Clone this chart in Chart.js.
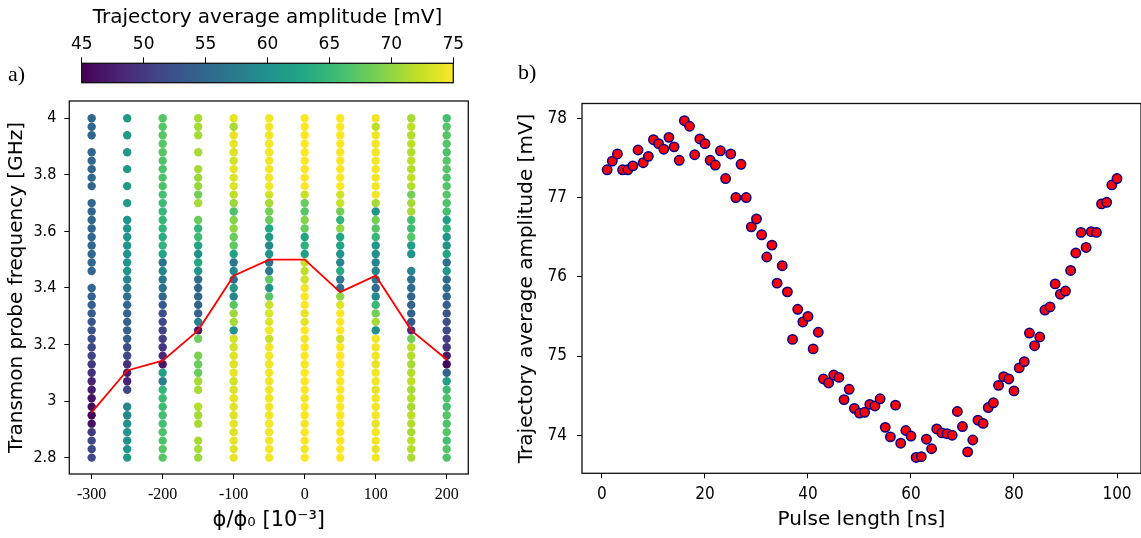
<!DOCTYPE html>
<html>
<head>
<meta charset="utf-8">
<script src="https://cdn.jsdelivr.net/npm/chart.js@4.4.1/dist/chart.umd.min.js"></script>
<style>
  body { margin: 0; background: #fff; width: 1141px; height: 538px; position: relative; overflow: hidden; }
  .box { position: absolute; }
  .panel { position: absolute; font-family: 'Liberation Serif', serif; font-size: 22px; line-height: 1; color: #000; }
</style>
</head>
<body>
<div class="box" style="left:0;top:0;width:480px;height:100px"><canvas id="cbar" width="480" height="100"></canvas></div>
<div class="box" style="left:0;top:96px;width:480px;height:442px"><canvas id="chartA" width="480" height="442"></canvas></div>
<div class="box" style="left:480px;top:0;width:661px;height:538px"><canvas id="chartB" width="661" height="538"></canvas></div>
<div class="panel" style="left:8px;top:63px">a)</div>
<div class="panel" style="left:518px;top:61px">b)</div>
<script>
// ---- panel a: flux sweep ----
const fluxColumns = [-300, -250, -200, -150, -100, -50, 0, 50, 100, 150, 200];
const probeFreq = [2.80, 2.83, 2.86, 2.89, 2.92, 2.95, 2.98, 3.01, 3.04, 3.07, 3.10, 3.13, 3.16, 3.19,
  3.22, 3.25, 3.28, 3.31, 3.34, 3.37, 3.40, 3.43, 3.46, 3.49, 3.52, 3.55, 3.58, 3.61, 3.64, 3.67,
  3.70, 3.73, 3.76, 3.79, 3.82, 3.85, 3.88, 3.91, 3.94, 3.97, 4.00];

// trajectory amplitude [mV] per column, bottom (2.8 GHz) to top (4 GHz); null = no point
const ampM300 = [51.5,51.5,51.5,50,46.5,45.2,46,46.5,47.5,48,49,50,51,51.5,52,52.5,53,53.5,54,54.5,55,null,55,55,55,55,55,55,55,55,55,null,55,55,55,55,55,null,55,55,55];
const ampM250 = [61,60.5,60,60.5,60,59,59,null,51.5,48,47.5,49,51.5,52,54,54.5,54.5,55,55,56,57,58.5,60.5,60.5,60.5,60.5,60.5,60.5,60.5,null,61,null,61,null,61,null,61,null,61,null,61];
const ampM200 = [67,67,66.5,66.5,66,66,65.5,65.5,64.5,58,62,47,48.5,49.5,50.5,51,51.5,52,53.5,55,56,57,59,56.5,62.5,64.5,63.5,64.5,65,65,65.5,66,66.5,66.5,66.5,66.5,67,67,67,67,67];
const ampM150 = [70.5,71,71,null,71,71,71.5,null,71,71,68,68,69,null,68.5,47,58,54,54.5,55,55,55.5,60.5,63,60,62.5,65.5,64.5,68,null,71,68.5,70.5,70.5,71,null,71,null,71,71,71];
const ampM100 = [74,73.5,74,73.5,74,73.5,73.5,74,73.5,73,74,73.5,73.5,73,73,60,71,70.5,67,58.5,61,55.5,59,57,62,67.5,68,70,69.5,66.5,70.5,72,73.5,73.5,74,73,73.5,74,74,71,74];
const ampM50 = [74.5,74.5,74.5,74.5,74.5,74.5,74.5,74.5,74.5,74.5,74.5,74.5,74.5,74.5,72.5,74.5,73.5,73.5,72.5,67,60,67.5,57,56,60,59,61,63,68,68.5,71,73,74.5,74.5,74.5,74.5,74.5,74.5,74.5,74.5,74.5];
const amp0 = [75,74.5,75,75,74.5,75,75,74.5,75,75,75,74.5,75,75,74.5,75,74,74,75,75,74.5,73,72,72.5,62,64,62.5,68,69.5,67,68,72.5,75,75,75,75,75,75,75,75,75];
const amp50 = [75,75,75,75,75,75,75,75,75,75,75,75,75,75,73,75,75,75,73.5,70,56,57,63.5,58.5,60.5,62.5,62.5,70,64.5,68.5,72.5,73,75,75,75,75,75,75,75,75,75];
const amp100 = [74.5,74,74.5,74.5,74,74.5,74.5,74.5,74,74.5,74.5,74,74.5,74.5,74.5,60,71,68.5,65,59,55.5,57,58.5,58.5,60,60.5,65,67,68.5,60.5,71,74.5,74.5,74.5,74.5,74.5,74.5,74.5,74.5,72,74.5];
const amp150 = [71,71.5,72,71,71.5,72,71,71.5,71,72,71.5,71,71.5,72,68.5,49,53,54,54.5,55,55.5,56,58.5,null,60.5,61.5,67,65.5,66,71,71,68.5,71.5,72,71.5,72,71.5,72,71.5,72,71];
const amp200 = [66.5,67,66,67,66.5,67,66,66.5,65.5,62,54.5,45.5,47,49.5,50.5,51.5,52,53,54.5,55,55.5,55.5,61,56,62.5,60,60.5,64.5,62,66,66.5,67,67,66.5,67,67,66.5,67,67,67,66];
const columnAmps = [ampM300, ampM250, ampM200, ampM150, ampM100, ampM50, amp0, amp50, amp100, amp150, amp200];

const resonanceFlux = [-300, -250, -200, -150, -100, -50, 0, 50, 100, 150, 200];
const resonanceFreq = [2.96, 3.108, 3.143, 3.25, 3.443, 3.50, 3.50, 3.385, 3.443, 3.25, 3.147];

const colorMin = 45, colorMax = 75;
const colorTicks = [45, 50, 55, 60, 65, 70, 75];

// ---- panel b: pulse length sweep ----
const pulseLength = [1,2,3,4,5,6,7,8,9,10,11,12,13,14,15,16,17,18,19,20,21,22,23,24,25,26,27,28,29,30,
  31,32,33,34,35,36,37,38,39,40,41,42,43,44,45,46,47,48,49,50,51,52,53,54,55,56,57,58,59,60,
  61,62,63,64,65,66,67,68,69,70,71,72,73,74,75,76,77,78,79,80,81,82,83,84,85,86,87,88,89,90,
  91,92,93,94,95,96,97,98,99,100];
const trajAmp = [77.35,77.46,77.55,77.35,77.35,77.40,77.60,77.44,77.52,77.73,
  77.68,77.61,77.76,77.64,77.47,77.97,77.90,77.54,77.74,77.68,
  77.47,77.41,77.59,77.24,77.55,77.00,77.42,77.00,76.63,76.73,
  76.53,76.25,76.40,75.92,76.14,75.81,75.21,75.59,75.43,75.50,
  75.09,75.30,74.71,74.66,74.76,74.73,74.45,74.58,74.34,74.28,
  74.29,74.39,74.37,74.46,74.10,73.98,74.38,73.90,74.06,73.99,
  73.72,73.73,73.95,73.83,74.08,74.03,74.02,74.00,74.30,74.11,
  73.79,73.94,74.19,74.15,74.35,74.41,74.63,74.74,74.71,74.56,
  74.85,74.93,75.29,75.13,75.24,75.58,75.62,75.91,75.78,75.82,
  76.08,76.30,76.56,76.37,76.57,76.56,76.92,76.94,77.16,77.24];

// viridis colormap
const viridisStops = ['#440154', '#482475', '#414487', '#355f8d', '#2a788e', '#21918c',
  '#22a884', '#44bf70', '#7ad151', '#bddf26', '#fde725'];
function hexRgb(h) {
  return [parseInt(h.slice(1, 3), 16), parseInt(h.slice(3, 5), 16), parseInt(h.slice(5, 7), 16)];
}
function viridis(v) {
  let t = Math.min(1, Math.max(0, (v - colorMin) / (colorMax - colorMin))) * 10;
  let i = Math.min(9, Math.floor(t));
  let f = t - i;
  let a = hexRgb(viridisStops[i]), b = hexRgb(viridisStops[i + 1]);
  return 'rgb(' + a.map((c, k) => Math.round(c + (b[k] - c) * f)).join(',') + ')';
}

const frame = {
  id: 'frame',
  afterDraw(chart) {
    const {ctx, chartArea: a} = chart;
    ctx.save();
    ctx.strokeStyle = '#111';
    ctx.lineWidth = 1.3;
    ctx.strokeRect(a.left, a.top, a.right - a.left, a.bottom - a.top);
    ctx.restore();
  }
};

// keep the plot box where the figure has it: no extra room for overhanging tick labels
function fixX(h) { return s => { s.height = h; s.paddingLeft = 0; s.paddingRight = 0; }; }
function fixY(w) { return s => { s.width = w; s.paddingTop = 0; s.paddingBottom = 0; }; }

const sans = "'DejaVu Sans', sans-serif";
const tickSans = "'DejaVu Sans Condensed', 'DejaVu Sans', sans-serif";
const noPlugins = {legend: {display: false}, tooltip: {enabled: false}};

// ---- colorbar ----
const gradientBar = {
  id: 'gradientBar',
  beforeDatasetsDraw(chart) {
    const {ctx, chartArea: a, scales: {x}} = chart;
    const x0 = x.getPixelForValue(colorMin), x1 = x.getPixelForValue(colorMax);
    const g = ctx.createLinearGradient(x0, 0, x1, 0);
    viridisStops.forEach((c, i) => g.addColorStop(i / 10, c));
    ctx.save();
    ctx.fillStyle = g;
    ctx.fillRect(x0, a.top, x1 - x0, a.bottom - a.top);
    ctx.restore();
  }
};

new Chart(document.getElementById('cbar'), {
  type: 'scatter',
  data: {datasets: [{data: []}]},
  options: {
    responsive: false, animation: false, devicePixelRatio: 1,
    layout: {autoPadding: false, padding: {left: 81.7, right: 26.7, top: 0, bottom: 17.3}},
    plugins: noPlugins,
    scales: {
      x: {
        type: 'linear', position: 'top', min: colorMin, max: colorMax,
        afterBuildTicks: s => { s.ticks = colorTicks.map(v => ({value: v})); },
        ticks: {color: '#000', font: {family: sans, size: 17}, padding: 3},
        grid: {drawOnChartArea: false, tickLength: 6, color: '#000'},
        border: {display: false},
        title: {display: true, text: 'Trajectory average amplitude [mV]', color: '#000',
          font: {family: sans, size: 20}, padding: {top: 6, bottom: 0}},
        afterFit: fixX(63.3)
      },
      y: {display: false, min: 0, max: 1}
    }
  },
  plugins: [gradientBar, frame]
});

// ---- chart a ----
const columnSets = fluxColumns.map((fx, c) => {
  const pts = [], cols = [];
  columnAmps[c].forEach((v, i) => {
    if (v === null) return;
    pts.push({x: fx, y: probeFreq[i]});
    cols.push(viridis(v));
  });
  return {data: pts, pointBackgroundColor: cols, pointBorderWidth: 0, pointRadius: 4.2, showLine: false};
});

new Chart(document.getElementById('chartA'), {
  type: 'scatter',
  data: {
    datasets: [{
      data: resonanceFlux.map((fx, i) => ({x: fx, y: resonanceFreq[i]})),
      showLine: true, borderColor: '#ff0000', borderWidth: 1.8, pointRadius: 0, fill: false
    }].concat(columnSets)
  },
  options: {
    responsive: false, animation: false, devicePixelRatio: 1,
    layout: {autoPadding: false, padding: {left: 0, top: 5, right: 11.7, bottom: 0}},
    plugins: noPlugins,
    scales: {
      x: {
        type: 'linear', min: -331.5, max: 230.4,
        ticks: {stepSize: 100, includeBounds: false, color: '#000', padding: 6,
          font: {family: "'Liberation Serif', serif", size: 16}, callback: v => String(v)},
        grid: {drawOnChartArea: false, tickLength: 5, color: '#000'},
        border: {display: false},
        title: {display: true, text: 'ϕ/ϕ₀ [10⁻³]', color: '#000',
          font: {family: sans, size: 21}, padding: {top: 0, bottom: 5}},
        afterFit: fixX(64)
      },
      y: {
        type: 'linear', min: 2.742, max: 4.061,
        ticks: {stepSize: 0.2, includeBounds: false, color: '#000', padding: 8,
          font: {family: tickSans, size: 16}, callback: v => String(Math.round(v * 10) / 10)},
        grid: {drawOnChartArea: false, tickLength: 5, color: '#000'},
        border: {display: false},
        title: {display: true, text: 'Transmon probe frequency [GHz]', color: '#000',
          font: {family: sans, size: 20}, padding: {top: 5, bottom: 0}},
        afterFit: fixY(69.3)
      }
    }
  },
  plugins: [frame]
});

// ---- chart b ----
new Chart(document.getElementById('chartB'), {
  type: 'scatter',
  data: {
    datasets: [{
      data: pulseLength.map((p, i) => ({x: p, y: trajAmp[i]})),
      pointBackgroundColor: '#ff0000', pointBorderColor: '#00008b',
      pointBorderWidth: 1.5, pointRadius: 4.7
    }]
  },
  options: {
    responsive: false, animation: false, devicePixelRatio: 1,
    layout: {autoPadding: false, padding: {left: 0, top: 103.5, right: 0, bottom: 0}},
    plugins: noPlugins,
    scales: {
      x: {
        type: 'linear', min: -3.88, max: 104.66,
        ticks: {stepSize: 20, includeBounds: false, color: '#000', padding: 6,
          font: {family: tickSans, size: 17}},
        grid: {drawOnChartArea: false, tickLength: 5, color: '#000'},
        border: {display: false},
        title: {display: true, text: 'Pulse length [ns]', color: '#000',
          font: {family: sans, size: 20}, padding: {top: 0, bottom: 6}},
        afterFit: fixX(64.7)
      },
      y: {
        type: 'linear', min: 73.52, max: 78.187,
        ticks: {stepSize: 1, includeBounds: false, color: '#000', padding: 10,
          font: {family: tickSans, size: 17}},
        grid: {drawOnChartArea: false, tickLength: 5, color: '#000'},
        border: {display: false},
        title: {display: true, text: 'Trajectory average amplitude [mV]', color: '#000',
          font: {family: sans, size: 20}, padding: {top: 35, bottom: 0}},
        afterFit: fixY(102)
      }
    }
  },
  plugins: [frame]
});
</script>
</body>
</html>
